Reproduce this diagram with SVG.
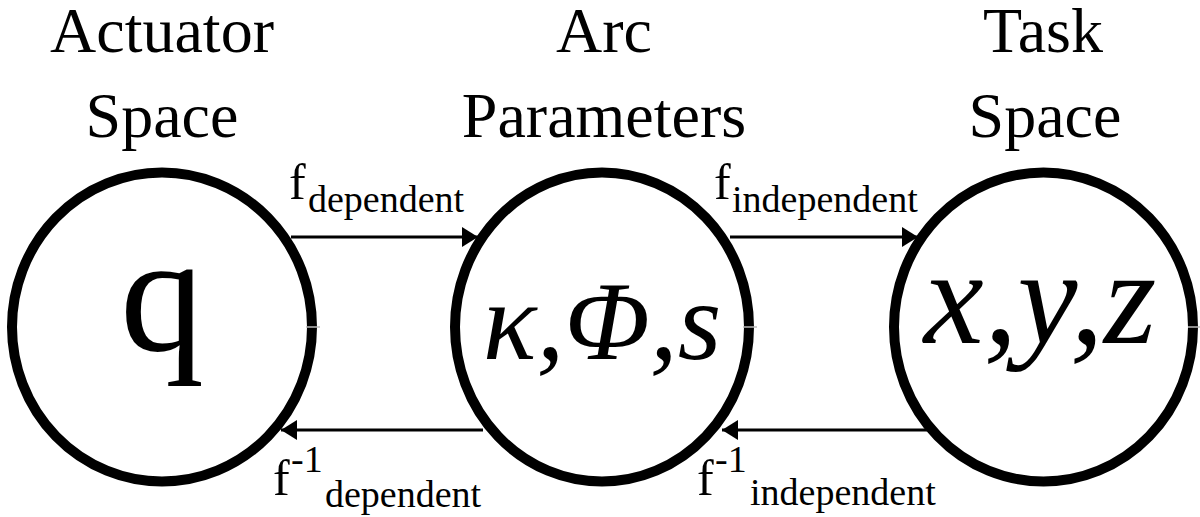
<svg xmlns="http://www.w3.org/2000/svg" width="1200" height="517" viewBox="0 0 1200 517">
<style>
.title{font-size:64px;text-anchor:middle}
.node{fill:#fff;stroke:#000;stroke-width:10}
.conn{stroke:#000;stroke-width:3;fill:none}
.f{font-size:50px}
.sub{font-size:38px}
.tick{stroke:#bbb;stroke-width:1.5}
</style>
<defs>
<marker id="ah" markerUnits="userSpaceOnUse" markerWidth="16" markerHeight="20" refX="16" refY="10" orient="auto">
<path d="M0,0 L16,10 L0,20 Z" fill="#000"/>
</marker>
</defs>
<rect width="1200" height="517" fill="#fff"/>
<g font-family="Liberation Serif, DejaVu Serif, Noto Serif, FreeSerif, serif" fill="#000">
<g id="actuator-space">
<ellipse class="node" cx="162" cy="327" rx="150" ry="154.5"/>
<line class="tick" x1="306" y1="327" x2="320" y2="327"/>
<text class="title" x="162" y="52">Actuator</text>
<text class="title" x="162" y="137">Space</text>
<text x="162" y="350" font-size="168" text-anchor="middle">q</text>
</g>
<g id="arc-parameters">
<ellipse class="node" cx="602" cy="327" rx="147" ry="154.5"/>
<line class="tick" x1="743" y1="327" x2="757" y2="327"/>
<text class="title" x="604" y="52">Arc</text>
<text class="title" x="604" y="137">Parameters</text>
<text x="602" y="359" font-size="112" font-style="italic" text-anchor="middle">κ,Φ,s</text>
</g>
<g id="task-space">
<ellipse class="node" cx="1043.5" cy="327" rx="149.5" ry="154.5"/>
<line class="tick" x1="1188" y1="327" x2="1200" y2="327"/>
<text class="title" x="1043" y="52">Task</text>
<text class="title" x="1045" y="137">Space</text>
<text x="1040" y="343" font-size="135" font-style="italic" text-anchor="middle">x,y,z</text>
</g>
<g id="connectors">
<line class="conn" x1="291" y1="237" x2="478" y2="237" marker-end="url(#ah)"/>
<line class="conn" x1="730" y1="237" x2="918" y2="237" marker-end="url(#ah)"/>
<line class="conn" x1="483" y1="430" x2="281" y2="430" marker-end="url(#ah)"/>
<line class="conn" x1="927" y1="430" x2="722" y2="430" marker-end="url(#ah)"/>
<text><tspan class="f" x="289" y="199">f</tspan><tspan class="sub" x="308" y="212">dependent</tspan></text>
<text><tspan class="f" x="714" y="199">f</tspan><tspan class="sub" x="732" y="212">independent</tspan></text>
<text><tspan class="f" x="273" y="495">f</tspan><tspan class="sub" x="291" y="472">-1</tspan><tspan class="sub" x="325" y="507">dependent</tspan></text>
<text><tspan class="f" x="697" y="495">f</tspan><tspan class="sub" x="715" y="472">-1</tspan><tspan class="sub" x="750" y="505">independent</tspan></text>
</g>
</g>
</svg>
